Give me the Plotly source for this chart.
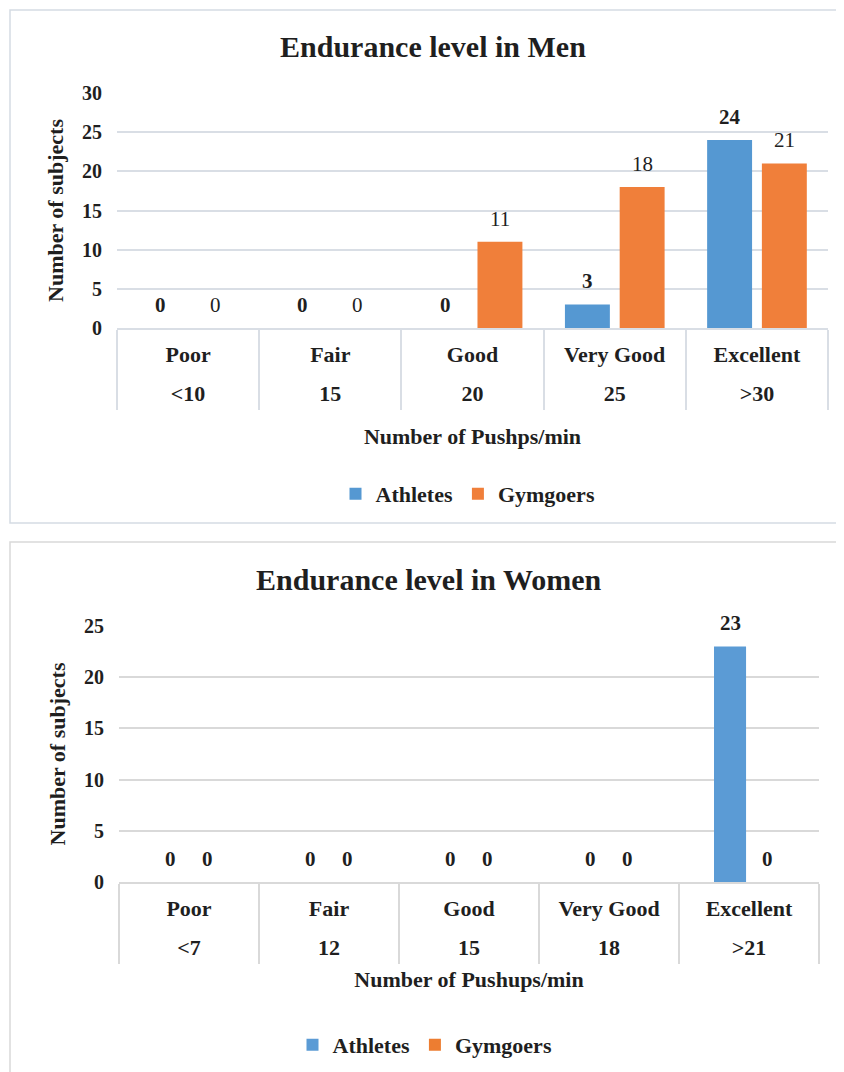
import plotly.graph_objects as go

# ---------------- data ----------------
levels = ["Poor", "Fair", "Good", "Very Good", "Excellent"]
ranges_men = ["&lt;10", "15", "20", "25", "&gt;30"]
athletes_men = [0, 0, 0, 3, 24]
gym_men = [0, 0, 11, 18, 21]

ranges_women = ["&lt;7", "12", "15", "18", "&gt;21"]
athletes_women = [0, 0, 0, 0, 23]
gym_women = [0, 0, 0, 0, 0]

series_names = ["Athletes", "Gymgoers"]

# ---------------- style ----------------
FONT = "Liberation Serif"
TXT = "#1f1f1f"
W, H = 844, 1072
PAGE_OFF = 8  # page body margin

def px_x(v):
    return (v - PAGE_OFF) / W

def px_y(v):
    return 1 - (v - PAGE_OFF) / H

top_blue, top_orange = "#5598d2", "#f07f3a"
bot_blue, bot_orange = "#5b9bd5", "#ed7d31"
grid_top = "#d9dee5"
grid_bot = "#d9d9d9"

fig = go.Figure()

w_top, off_top = 0.316, (-0.35, 0.035)
w_bot, off_bot = 0.229, (-0.25, 0.021)

fig.add_trace(go.Bar(x=levels, y=athletes_men, name=series_names[0], marker_color=top_blue,
                     width=w_top, offset=off_top[0], xaxis="x", yaxis="y", legend="legend",
                     marker_line_width=0))
fig.add_trace(go.Bar(x=levels, y=gym_men, name=series_names[1], marker_color=top_orange,
                     width=w_top, offset=off_top[1], xaxis="x", yaxis="y", legend="legend",
                     marker_line_width=0))
fig.add_trace(go.Bar(x=levels, y=athletes_women, name=series_names[0], marker_color=bot_blue,
                     width=w_bot, offset=off_bot[0], xaxis="x2", yaxis="y2", legend="legend2",
                     marker_line_width=0))
fig.add_trace(go.Bar(x=levels, y=gym_women, name=series_names[1], marker_color=bot_orange,
                     width=w_bot, offset=off_bot[1], xaxis="x2", yaxis="y2", legend="legend2",
                     marker_line_width=0))

# helper traces that carry the second row of category labels (ranges)
idx = list(range(len(levels)))
fig.add_trace(go.Scatter(x=idx, y=[0] * len(idx), mode="markers", marker=dict(opacity=0),
                         xaxis="x3", yaxis="y", showlegend=False, hoverinfo="skip"))
fig.add_trace(go.Scatter(x=idx, y=[0] * len(idx), mode="markers", marker=dict(opacity=0),
                         xaxis="x4", yaxis="y2", showlegend=False, hoverinfo="skip"))

# data labels (annotations in data coordinates)
annotations = []
cat_px_top = (828 - 117) / len(levels)
cat_px_bot = (819 - 119) / len(levels)

def add_labels(values, xref, yref, shift, bold):
    for i, v in enumerate(values):
        annotations.append(dict(
            x=i, y=v, xref=xref, yref=yref, text=str(v), showarrow=False,
            xshift=shift, yshift=23, yanchor="middle", xanchor="center",
            font=dict(family=FONT, size=21, color=TXT, weight="bold" if bold else "normal"),
        ))

add_labels(athletes_men, "x", "y", (off_top[0] + w_top / 2) * cat_px_top, True)
add_labels(gym_men, "x", "y", (off_top[1] + w_top / 2) * cat_px_top, False)
add_labels(athletes_women, "x2", "y2", (off_bot[0] + w_bot / 2) * cat_px_bot, True)
add_labels(gym_women, "x2", "y2", (off_bot[1] + w_bot / 2) * cat_px_bot, True)

# titles
annotations.append(dict(text="<b>Endurance level in Men</b>", x=px_x(433), y=px_y(47),
                        xref="paper", yref="paper", showarrow=False, xanchor="center", yanchor="middle",
                        font=dict(family=FONT, size=30, color=TXT)))
annotations.append(dict(text="<b>Endurance level in Women</b>", x=px_x(429), y=px_y(579),
                        xref="paper", yref="paper", showarrow=False, xanchor="center", yanchor="middle",
                        font=dict(family=FONT, size=30, color=TXT)))

tickfont_x = dict(family=FONT, size=22, color=TXT, weight="bold")
tickfont_y = dict(family=FONT, size=20, color=TXT, weight="bold")
titlefont = dict(family=FONT, size=22, color=TXT, weight="bold")

DIV_LEN = 80

def xaxis_cfg(domain, anchor, title, gridc, standoff):
    return dict(domain=domain, anchor=anchor, type="category", categoryorder="array",
                categoryarray=levels, range=[-0.5, len(levels) - 0.5],
                tickfont=tickfont_x, showgrid=False, zeroline=False,
                showline=True, linecolor=gridc, linewidth=1.5,
                tickson="boundaries", ticks="outside", ticklen=DIV_LEN, tickwidth=1.5, tickcolor=gridc,
                ticklabelstandoff=6,
                title=dict(text=title, font=titlefont, standoff=standoff), fixedrange=True)

def xaxis_range_cfg(overlay, anchor, texts):
    return dict(overlaying=overlay, anchor=anchor, side="bottom", type="linear",
                range=[-0.5, len(levels) - 0.5], tickmode="array", tickvals=idx, ticktext=texts,
                tickfont=tickfont_x, showgrid=False, zeroline=False, showline=False, ticks="",
                ticklabelstandoff=50, fixedrange=True)

def yaxis_cfg(domain, anchor, rng, gridc):
    return dict(domain=domain, anchor=anchor, range=rng, dtick=5, tickfont=tickfont_y,
                showgrid=True, gridcolor=gridc, gridwidth=1.5, zeroline=False, showline=False,
                ticks="", ticklabelstandoff=14,
                title=dict(text="Number of subjects", font=titlefont, standoff=12), fixedrange=True)

fig.update_layout(
    template="none",
    width=W, height=H, autosize=False,
    margin=dict(l=0, r=0, t=0, b=0, pad=0),
    paper_bgcolor="white", plot_bgcolor="white",
    barmode="overlay",
    font=dict(family=FONT, color=TXT),
    xaxis=xaxis_cfg([px_x(117), px_x(828)], "y", "Number of Pushps/min", grid_top, 62),
    yaxis=yaxis_cfg([px_y(328), px_y(93)], "x", [0, 30], grid_top),
    xaxis2=xaxis_cfg([px_x(119), px_x(819)], "y2", "Number of Pushups/min", grid_bot, 51),
    yaxis2=yaxis_cfg([px_y(882), px_y(626)], "x2", [0, 25], grid_bot),
    xaxis3=xaxis_range_cfg("x", "y", ranges_men),
    xaxis4=xaxis_range_cfg("x2", "y2", ranges_women),
    legend=dict(orientation="h", x=px_x(468), y=px_y(494), xanchor="center", yanchor="middle",
                font=dict(family=FONT, size=22, color=TXT, weight="bold"), bgcolor="rgba(0,0,0,0)"),
    legend2=dict(orientation="h", x=px_x(425), y=px_y(1045), xanchor="center", yanchor="middle",
                 font=dict(family=FONT, size=22, color=TXT, weight="bold"), bgcolor="rgba(0,0,0,0)"),
    annotations=annotations,
    shapes=[
        dict(type="rect", xref="paper", yref="paper", x0=px_x(10), x1=1.05, y0=px_y(523), y1=px_y(10),
             line=dict(color="#d5dbe3", width=1.5), layer="below"),
        dict(type="rect", xref="paper", yref="paper", x0=px_x(10), x1=1.05, y0=-0.05, y1=px_y(542),
             line=dict(color="#d9d9d9", width=1.5), layer="below"),
    ],
    showlegend=True,
)

fig.write_html("out.html")
